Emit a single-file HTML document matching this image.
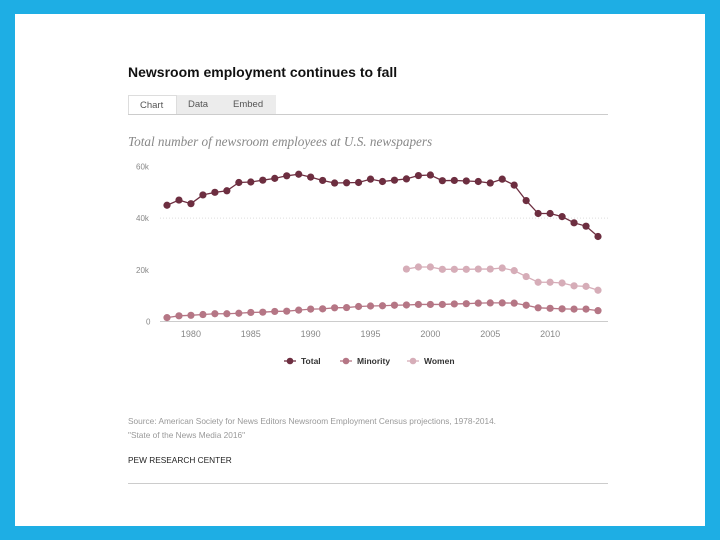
<!DOCTYPE html>
<html><head><meta charset="utf-8"><style>
body{margin:0;background:#1eaee4;}
svg{display:block;font-family:"Liberation Sans",sans-serif;}
</style></head><body>
<svg id="c" width="720" height="540" viewBox="0 0 720 540">
<rect x="15" y="14" width="690" height="512" fill="#fff"/>
<text x="128" y="77" font-size="14" font-weight="bold" fill="#111">Newsroom employment continues to fall</text>
<rect x="177" y="95" width="99" height="19" fill="#ececec"/>
<rect x="128.5" y="95.5" width="48" height="19" fill="#fff" stroke="#ddd"/>
<text x="140" y="108" font-size="9.5" fill="#555">Chart</text>
<text x="188" y="107" font-size="9.5" fill="#555">Data</text>
<text x="233" y="107" font-size="9.5" fill="#555">Embed</text>
<line x1="128" y1="114.5" x2="608" y2="114.5" stroke="#ccc"/>
<text x="128" y="146" font-size="13.2" font-style="italic" fill="#888" font-family="Liberation Serif,serif">Total number of newsroom employees at U.S. newspapers</text>
<g id="plot"></g>
<g id="legend" font-size="8.5" font-weight="bold" fill="#333"></g>
<text x="128" y="424" font-size="8.3" fill="#999">Source: American Society for News Editors Newsroom Employment Census projections, 1978-2014.</text>
<text x="128" y="438" font-size="8.3" fill="#999">"State of the News Media 2016"</text>
<text x="128" y="463" font-size="8.3" fill="#222">PEW RESEARCH CENTER</text>
<line x1="128" y1="483.5" x2="608" y2="483.5" stroke="#ccc"/>
</svg>
<script>
const years=[];for(let y=1978;y<=2014;y++)years.push(y);
const total=[45,47,45.6,49,50,50.6,53.8,54,54.7,55.4,56.4,57,55.9,54.6,53.6,53.7,53.8,55.1,54.2,54.7,55.2,56.5,56.7,54.5,54.6,54.4,54.2,53.6,55.1,52.8,46.8,41.8,41.8,40.6,38.2,36.9,32.9];
const minority=[1.5,2.2,2.4,2.7,3.0,3.0,3.2,3.5,3.6,3.9,4.0,4.4,4.8,4.9,5.3,5.4,5.8,6.0,6.1,6.3,6.4,6.6,6.6,6.6,6.8,6.9,7.1,7.2,7.2,7.1,6.3,5.3,5.1,4.9,4.8,4.8,4.2];
const womenYears=[1998,1999,2000,2001,2002,2003,2004,2005,2006,2007,2008,2009,2010,2011,2012,2013,2014];
const women=[20.3,21.1,21.1,20.2,20.2,20.2,20.3,20.3,20.7,19.7,17.4,15.2,15.2,14.9,13.8,13.6,12.1];
const yTicks=[0,20,40,60];
const xTicks=[1980,1985,1990,1995,2000,2005,2010];
const seriesNames=["Total","Minority","Women"];
const NS="http://www.w3.org/2000/svg";
const x=v=>167+(v-1978)*(598-167)/36;
const y=v=>321.5-v*(321.5-166.5)/60;
const plot=document.getElementById('plot');
function mk(t,a,p){const e=document.createElementNS(NS,t);for(const k in a)e.setAttribute(k,a[k]);(p||plot).appendChild(e);return e;}
yTicks.forEach(t=>{
 if(t===0||t===40){
  const l=mk('line',{x1:160,x2:608,y1:y(t),y2:y(t),stroke:t===0?'#ccc':'#ddd','stroke-dasharray':t===0?'none':'1,2'});
  
  
 }
 const tx=mk('text',{x:t===0?146:136,y:y(t)+3,'font-size':8,fill:'#888'});tx.textContent=t===0?'0':t+'k';
 
 
});
xTicks.forEach(t=>{
 const tx=mk('text',{x:x(t),y:337,'font-size':9,fill:'#888','text-anchor':'middle'});tx.textContent=t;
 
 
});
function series(xs,vs,col,name){
 const g=mk('g',{});
 
 
 mk('polyline',{points:xs.map((a,i)=>x(a)+','+y(vs[i])).join(' '),fill:'none',stroke:col,'stroke-width':1.3},g);
 xs.forEach((a,i)=>{const c=mk('circle',{cx:x(a),cy:y(vs[i]),r:3.6,fill:col},g);
  
  });
}
series(womenYears,women,'#d6adb8','women');
series(years,minority,'#b57685','minority');
series(years,total,'#6d2e40','total');
const leg=document.getElementById('legend');
const lx=[290,346,413],cols=['#6d2e40','#b57685','#d6adb8'];
seriesNames.forEach((n,i)=>{
 const l=mk('line',{x1:lx[i]-6,x2:lx[i]+6,y1:361,y2:361,stroke:cols[i],'stroke-width':1.3},leg);
 
 
 const c=mk('circle',{cx:lx[i],cy:361,r:3.3,fill:cols[i]},leg);
 
 
 const t=mk('text',{x:lx[i]+11,y:364},leg);t.textContent=n;
 
 
});
</script>
</body></html>
